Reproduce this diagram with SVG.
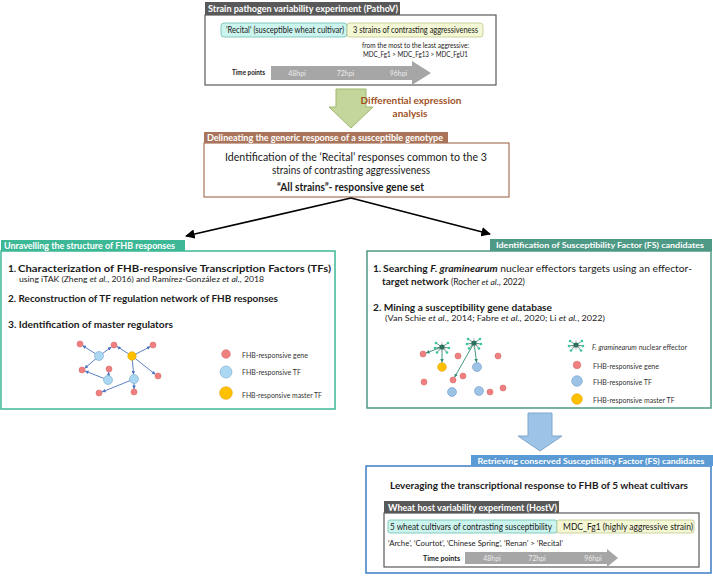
<svg xmlns="http://www.w3.org/2000/svg" width="713" height="578" viewBox="0 0 713 578">
<style>
text{font-family:Lato,"Liberation Sans",sans-serif;fill:#1a1a1a}
.tw{fill:#fff;font-weight:bold;font-size:9.5px}
.b{font-weight:bold}
.it{font-style:italic}
.sm{font-size:7px}
.hp{font-size:7px;fill:#ececec}
.lg{font-size:7px;fill:#333}
.gray{fill:#a6a6a6}
.rn{fill:#f08080;stroke:#d86a6a;stroke-width:0.6}
.bn{fill:#aad8f2;stroke:#78a8cc;stroke-width:0.6}
.bn2{fill:#9dc3e6;stroke:#6f9cc8;stroke-width:0.6}
.yn{fill:#ffc000;stroke:#e0a000;stroke-width:0.6}
.ed{stroke:#4a72c0;stroke-width:0.9;fill:none;marker-end:url(#ab)}
.ef{stroke:#2e8b70;stroke-width:0.9;fill:none;marker-end:url(#ag)}
.con{stroke:#000;stroke-width:1.6;fill:none;marker-end:url(#ak)}
</style>
<defs>
<marker id="ak" viewBox="0 0 10 10" refX="9" refY="5" markerWidth="6" markerHeight="6" orient="auto" markerUnits="strokeWidth"><path d="M0,0L10,5L0,10z" fill="#000"/></marker>
<marker id="ab" viewBox="0 0 10 10" refX="10" refY="5" markerWidth="4" markerHeight="4" orient="auto" markerUnits="strokeWidth"><path d="M0,0L10,5L0,10z" fill="#4a72c0"/></marker>
<marker id="ag" viewBox="0 0 10 10" refX="10" refY="5" markerWidth="4" markerHeight="4" orient="auto" markerUnits="strokeWidth"><path d="M0,0L10,5L0,10z" fill="#2e8b70"/></marker>
<g id="eff">
<g stroke="#c8b0b0" stroke-width="0.8"><line x1="0" y1="0" x2="0" y2="-5"/><line x1="0" y1="0" x2="4.5" y2="2.5"/><line x1="0" y1="0" x2="-4.5" y2="2.5"/><line x1="0" y1="0" x2="0" y2="5"/></g>
<g stroke="#2e7d6a" stroke-width="0.8"><line x1="0" y1="0" x2="-6" y2="-4"/><line x1="0" y1="0" x2="6" y2="-4"/><line x1="0" y1="0" x2="7" y2="1"/><line x1="0" y1="0" x2="5" y2="5.5"/><line x1="0" y1="0" x2="-5" y2="5.5"/><line x1="0" y1="0" x2="-7" y2="1"/></g>
<g fill="#3cc4a2"><circle cx="-6" cy="-4" r="1.3"/><circle cx="6" cy="-4" r="1.3"/><circle cx="7" cy="1" r="1.3"/><circle cx="5" cy="5.5" r="1.3"/><circle cx="-5" cy="5.5" r="1.3"/><circle cx="-7" cy="1" r="1.3"/></g>
<circle r="2.6" fill="#2e6e5e"/>
</g>
</defs>
<rect width="713" height="578" fill="#fff"/>

<g id="pathov">
<rect x="205" y="15" width="291" height="70" fill="#fff" stroke="#595959" stroke-width="1.2"/>
<rect x="205" y="2" width="195" height="13" fill="#595959"/>
<text x="208" y="12" class="tw" textLength="190" lengthAdjust="spacingAndGlyphs">Strain pathogen variability experiment (PathoV)</text>
<rect x="221" y="23" width="126" height="14" rx="3" fill="#ccf4ee" stroke="#6cbfae" stroke-width="0.8"/>
<rect x="347" y="23" width="136" height="14" rx="3" fill="#f4f7d4" stroke="#c2c88a" stroke-width="0.8"/>
<text x="226" y="33" font-size="8.5" textLength="118" lengthAdjust="spacingAndGlyphs">'Recital' (susceptible wheat cultivar)</text>
<text x="353" y="33" font-size="8.5" textLength="125" lengthAdjust="spacingAndGlyphs">3 strains of contrasting aggressiveness</text>
<text x="415.5" y="47.5" class="sm" text-anchor="middle" textLength="107" lengthAdjust="spacingAndGlyphs">from the most to the least aggressive:</text>
<text x="415.5" y="57" class="sm" text-anchor="middle" textLength="105" lengthAdjust="spacingAndGlyphs">MDC_Fg1 &gt; MDC_Fg13 &gt; MDC_FgU1</text>
<text x="232" y="75" class="sm b" textLength="33" lengthAdjust="spacingAndGlyphs">Time points</text>
<polygon class="gray" points="271,66 412,66 412,61 431,73 412,85 412,80 271,80"/>
<text x="297" y="75.5" class="hp" text-anchor="middle">48hpi</text>
<text x="345.5" y="75.5" class="hp" text-anchor="middle">72hpi</text>
<text x="398.5" y="75.5" class="hp" text-anchor="middle">96hpi</text>
</g>

<g id="diffexpr">
<polygon points="336,89 366,89 366,107 373,107 351,128 329,107 336,107" fill="#c3d69b" stroke="#9fb86c" stroke-width="1"/>
<text x="411" y="103.5" text-anchor="middle" font-size="10" class="b" style="fill:#a0521f">Differential expression</text>
<text x="410" y="116.5" text-anchor="middle" font-size="10" class="b" style="fill:#a0521f">analysis</text>
</g>

<g id="generic">
<rect x="204" y="143" width="305" height="54" fill="#fff" stroke="#a9745a" stroke-width="1.2"/>
<rect x="204" y="132" width="244" height="11" fill="#a9745a"/>
<text x="207" y="141" class="tw" style="font-size:9px" textLength="236" lengthAdjust="spacingAndGlyphs">Delineating the generic response of a susceptible genotype</text>
<text x="356" y="161" text-anchor="middle" font-size="10.5" textLength="262" lengthAdjust="spacingAndGlyphs">Identification of the ‘Recital’ responses common to the 3</text>
<text x="351" y="173.5" text-anchor="middle" font-size="10.5" textLength="158" lengthAdjust="spacingAndGlyphs">strains of contrasting aggressiveness</text>
<text x="350.5" y="190.5" text-anchor="middle" font-size="10.5" class="b" textLength="147" lengthAdjust="spacingAndGlyphs">“All strains”- responsive gene set</text>
</g>

<g id="connectors">
<line class="con" x1="351" y1="198" x2="186" y2="236"/>
<line class="con" x1="351" y1="198" x2="490" y2="234"/>
</g>

<g id="fhb-structure">
<rect x="1" y="251" width="334" height="158" fill="#fff" stroke="#3cb896" stroke-width="1.5"/>
<rect x="1" y="240" width="184" height="11" fill="#3cb896"/>
<text x="4" y="249" class="tw" textLength="171" lengthAdjust="spacingAndGlyphs">Unravelling the structure of FHB responses</text>
<text x="8" y="271.5" font-size="10" class="b">1.</text>
<text x="18" y="271.5" font-size="10" class="b" textLength="313" lengthAdjust="spacingAndGlyphs">Characterization of FHB-responsive Transcription Factors (TFs)</text>
<text x="19" y="282" font-size="8.2" textLength="245" lengthAdjust="spacingAndGlyphs">using iTAK (Zheng <tspan class="it">et al.</tspan>, 2016) and Ramírez-González <tspan class="it">et al.</tspan>, 2018</text>
<text x="8" y="301.5" font-size="10" class="b" textLength="270" lengthAdjust="spacingAndGlyphs">2. Reconstruction of TF regulation network of FHB responses</text>
<text x="8" y="327.5" font-size="10" class="b" textLength="165" lengthAdjust="spacingAndGlyphs">3. Identification of master regulators</text>
<g id="net-left">
<line class="ed" x1="99" y1="356" x2="82.5" y2="345.5"/>
<line class="ed" x1="99" y1="356" x2="111.5" y2="347"/>
<line class="ed" x1="132" y1="356" x2="117" y2="346.5"/>
<line class="ed" x1="132" y1="356" x2="150.5" y2="346.5"/>
<line class="ed" x1="132" y1="356" x2="155.5" y2="374.5"/>
<line class="ed" x1="132" y1="356" x2="133.6" y2="374.5"/>
<line class="ed" x1="99" y1="356" x2="84.5" y2="368.5"/>
<line class="ed" x1="108" y1="380" x2="85" y2="371"/>
<line class="ed" x1="108" y1="380" x2="108.8" y2="372"/>
<line class="ed" x1="134" y1="379" x2="102" y2="392"/>
<line class="ed" x1="134" y1="379" x2="134" y2="389"/>
<circle class="rn" cx="80" cy="344" r="3"/>
<circle class="rn" cx="114" cy="345" r="3"/>
<circle class="rn" cx="153" cy="345" r="3"/>
<circle class="rn" cx="82" cy="370" r="3"/>
<circle class="rn" cx="109" cy="369" r="3"/>
<circle class="rn" cx="158" cy="376" r="3"/>
<circle class="rn" cx="99" cy="393" r="3"/>
<circle class="rn" cx="134" cy="392" r="3"/>
<circle class="bn" cx="99" cy="356" r="4.5"/>
<circle class="bn" cx="108" cy="380" r="4.5"/>
<circle class="bn" cx="134" cy="379" r="4.5"/>
<circle class="yn" cx="132" cy="356" r="4.2"/>
</g>
<circle class="rn" cx="226" cy="354" r="4.3"/>
<circle class="bn" cx="226" cy="372" r="6"/>
<circle class="yn" cx="226" cy="393" r="6.3"/>
<text x="242" y="357.5" class="lg">FHB-responsive gene</text>
<text x="242" y="374.5" class="lg">FHB-responsive TF</text>
<text x="242" y="397.5" class="lg" textLength="80" lengthAdjust="spacingAndGlyphs">FHB-responsive master TF</text>
</g>

<g id="fs-candidates">
<rect x="367" y="251" width="344" height="157" fill="#fff" stroke="#4e9a86" stroke-width="1.5"/>
<rect x="490" y="239" width="222" height="12" fill="#4e9a86"/>
<text x="600" y="248.3" class="tw" style="font-size:8.3px" text-anchor="middle" textLength="208" lengthAdjust="spacingAndGlyphs">Identification of Susceptibility Factor (FS) candidates</text>
<text x="373" y="271.5" font-size="10" class="b">1.</text>
<text x="383" y="271.5" font-size="10" class="b" textLength="309" lengthAdjust="spacingAndGlyphs">Searching <tspan class="it">F. graminearum</tspan> <tspan font-weight="normal">nuclear effectors targets using an effector-</tspan></text>
<text x="382" y="284.5" font-size="10" class="b">target network <tspan font-weight="normal" font-size="8.5">(Rocher <tspan class="it">et al.</tspan>, 2022)</tspan></text>
<text x="373" y="310.5" font-size="10" class="b" textLength="179" lengthAdjust="spacingAndGlyphs">2. Mining a susceptibility gene database</text>
<text x="385" y="321" font-size="8.2" textLength="220" lengthAdjust="spacingAndGlyphs">(Van Schie <tspan class="it">et al.</tspan>, 2014; Fabre <tspan class="it">et al.</tspan>, 2020; Li <tspan class="it">et al.</tspan>, 2022)</text>
<g id="net-right">
<line class="ef" x1="442" y1="347" x2="426" y2="353"/>
<line class="ef" x1="442" y1="347" x2="442" y2="362.5"/>
<line class="ef" x1="474" y1="343" x2="454.5" y2="377.3"/>
<line class="ef" x1="474" y1="343" x2="476.6" y2="362.5"/>
<use href="#eff" x="442" y="347"/>
<use href="#eff" x="474" y="343"/>
<circle class="rn" cx="423" cy="354" r="3"/>
<circle class="rn" cx="458" cy="356" r="3"/>
<circle class="rn" cx="498" cy="356" r="3"/>
<circle class="rn" cx="424" cy="382" r="3"/>
<circle class="rn" cx="453" cy="380" r="3"/>
<circle class="rn" cx="463" cy="376" r="3"/>
<circle class="rn" cx="490" cy="392" r="3"/>
<circle class="rn" cx="503" cy="388" r="3"/>
<circle class="yn" cx="442" cy="367" r="4.3"/>
<circle class="bn2" cx="477" cy="367" r="4.5"/>
<circle class="bn2" cx="452" cy="392" r="4.5"/>
<circle class="bn2" cx="479" cy="391" r="4.5"/>
</g>
<use href="#eff" x="576" y="345"/>
<circle class="rn" cx="577" cy="365" r="3.8"/>
<circle class="bn2" cx="577" cy="381" r="5.3"/>
<circle class="yn" cx="577" cy="399" r="5.3"/>
<text x="592" y="349.5" class="lg"><tspan class="it">F. graminearum</tspan> nuclear effector</text>
<text x="593" y="368.5" class="lg">FHB-responsive gene</text>
<text x="593" y="384.5" class="lg">FHB-responsive TF</text>
<text x="593" y="402.5" class="lg">FHB-responsive master TF</text>
</g>

<g id="to-conserved">
<polygon points="528,413 552,413 552,436 562,436 540,451 518,436 528,436" fill="#9dc3e6" stroke="#7fa7cf" stroke-width="1"/>
</g>

<g id="conserved">
<rect x="366" y="466" width="345" height="107" fill="#fff" stroke="#3b7ec4" stroke-width="1.5"/>
<rect x="471" y="455" width="242" height="11" fill="#5b9bd5"/>
<text x="591" y="463.8" class="tw" style="font-size:8.3px" text-anchor="middle" textLength="227" lengthAdjust="spacingAndGlyphs">Retrieving conserved Susceptibility Factor (FS) candidates</text>
<text x="390" y="488.5" font-size="10" class="b" textLength="298" lengthAdjust="spacingAndGlyphs">Leveraging the transcriptional response to FHB of 5 wheat cultivars</text>
<g id="hostv">
<rect x="384" y="513" width="315" height="54" fill="#fff" stroke="#595959" stroke-width="1.2"/>
<rect x="384" y="501" width="175" height="12" fill="#595959"/>
<text x="388" y="510.5" class="tw" style="font-size:9px" textLength="169" lengthAdjust="spacingAndGlyphs">Wheat host variability experiment (HostV)</text>
<rect x="388" y="520" width="169" height="13" rx="2" fill="#ccf4ee" stroke="#6cbfae" stroke-width="0.8"/>
<rect x="557" y="520" width="137" height="13" rx="2" fill="#f4f7d4" stroke="#c2c88a" stroke-width="0.8"/>
<text x="390" y="529.5" font-size="8.5" textLength="162" lengthAdjust="spacingAndGlyphs">5 wheat cultivars of contrasting susceptibility</text>
<text x="563" y="529.5" font-size="8.5" textLength="130" lengthAdjust="spacingAndGlyphs">MDC_Fg1 (highly aggressive strain)</text>
<text x="388" y="545.5" class="sm" textLength="175" lengthAdjust="spacingAndGlyphs">‘Arche’, ‘Courtot’, ‘Chinese Spring’, ‘Renan’ &gt; ‘Recital’</text>
<text x="423" y="560.5" class="sm b" textLength="37" lengthAdjust="spacingAndGlyphs">Time points</text>
<polygon class="gray" points="465,552 607,552 607,549 618,558 607,567 607,564 465,564"/>
<text x="492" y="560.5" class="hp" text-anchor="middle">48hpi</text>
<text x="537" y="560.5" class="hp" text-anchor="middle">72hpi</text>
<text x="593" y="560.5" class="hp" text-anchor="middle">96hpi</text>
</g>
</g>
</svg>
